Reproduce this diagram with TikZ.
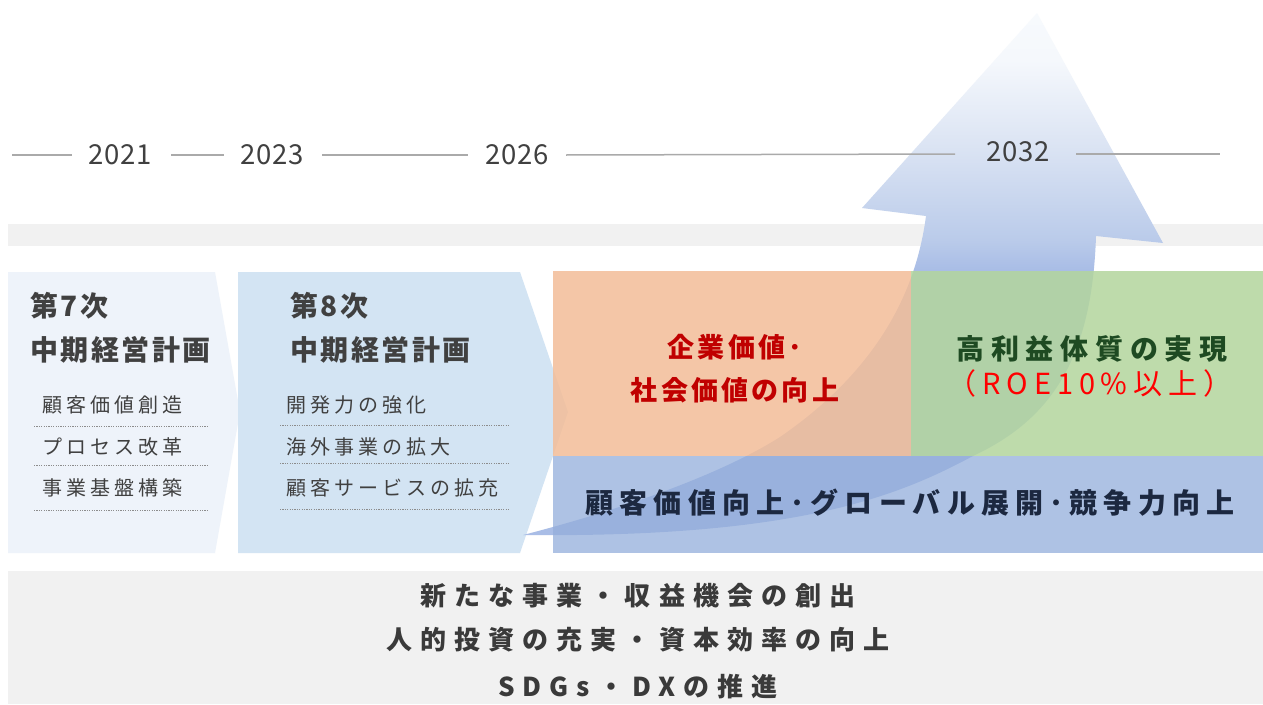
\documentclass[tikz,border=0pt]{standalone}
\usepackage{fontspec}
\newfontfamily\jp{Noto Sans CJK JP}
\newcommand{\jpfs}[2]{\fontsize{#1}{#1}\selectfont\addfontfeature{LetterSpace=#2}}
\definecolor{bandgrey}{HTML}{F1F1F1}
\definecolor{boxA}{HTML}{EEF3FA}
\definecolor{boxB}{HTML}{D3E4F3}
\definecolor{orangec}{HTML}{F3BD98}
\definecolor{greenc}{HTML}{B3D59D}
\definecolor{bluec}{HTML}{94AEDB}
\definecolor{arrB}{HTML}{A9BDE6}
\definecolor{arrC}{HTML}{BACBEA}
\definecolor{arrM}{HTML}{DAE3F3}
\definecolor{arrL}{HTML}{F5F8FC}
\definecolor{arrT}{HTML}{F7FAFD}
\definecolor{txtdark}{HTML}{404040}
\definecolor{tlgrey}{HTML}{AAAAAA}
\definecolor{dotgrey}{HTML}{8C8C8C}
\definecolor{redA}{HTML}{C00000}
\definecolor{redB}{HTML}{FF0000}
\definecolor{greenT}{HTML}{1E4A22}
\definecolor{navyT}{HTML}{1C2840}
\definecolor{botT}{HTML}{3A3A3A}
\pgfdeclareverticalshading{arrowshade}{100bp}{color(0bp)=(arrB); color(50.6bp)=(arrB); color(53.4bp)=(arrC); color(62bp)=(arrM); color(70.5bp)=(arrL); color(75bp)=(arrT); color(100bp)=(arrT)}
\begin{document}
\begin{tikzpicture}[x=1pt,y=-1pt,
  year/.style={inner sep=0pt, text=txtdark, font={\jp\jpfs{27.5}{3}}},
  tl/.style={draw=tlgrey, line width=1.5pt},
  head/.style={inner sep=0pt, anchor=west, text=txtdark, font={\jp\bfseries\jpfs{28}{9}}},
  item/.style={inner sep=0pt, anchor=west, text=txtdark, font={\jp\jpfs{20}{20}}},
  dotline/.style={draw=dotgrey, line width=0.7pt, dash pattern=on 1.2pt off 1.2pt},
  goalA/.style={inner sep=0pt, text=redA, font={\jp\bfseries\jpfs{27}{12}}},
  goalB/.style={inner sep=0pt, text=greenT, font={\jp\bfseries\jpfs{28}{24}}},
  goalC/.style={inner sep=0pt, text=redB, font={\jp\jpfs{29}{20}}},
  bandtxt/.style={inner sep=0pt, text=navyT, font={\jp\bfseries\jpfs{28}{22}}},
  bottxt/.style={inner sep=0pt, text=botT, font={\jp\bfseries\jpfs{26}{31}}}]
\useasboundingbox (0,0) rectangle (1263,704);
\fill[white] (0,0) rectangle (1263,704);
% grey bands
\fill[bandgrey] (8,224) rectangle (1263,246);
\fill[bandgrey] (8,571) rectangle (1263,704);
% chevrons
\fill[boxA] (8,272) -- (215,272) -- (240,412) -- (215,553) -- (8,553) -- cycle;
\fill[boxB] (238,272) -- (520,272) -- (568,412) -- (520,553) -- (238,553) -- cycle;
% arrow
\path[shading=arrowshade] (523,535) .. controls (620,510) and (720,475) .. (780,437)
  .. controls (870,375) and (915,300) .. (926,216) -- (862,208) -- (1037,13) -- (1163,243)
  -- (1096,236) .. controls (1092,360) and (1050,420) .. (973,456)
  .. controls (900,495) and (800,538) .. (523,535) -- cycle;
% timeline
\node[year] (y2021) at (120,155) {2021};
\node[year] (y2023) at (272,155) {2023};
\node[year] (y2026) at (517,155) {2026};
\node[year] (y2032) at (1018,152) {2032};
\coordinate (a1) at (12,155); \coordinate (a2) at (72,155);
\coordinate (b1) at (171,155); \coordinate (b2) at (224,155);
\coordinate (c1) at (322,155); \coordinate (c2) at (468,155);
\coordinate (d1) at (566,155); \coordinate (d2) at (955,154);
\coordinate (e1) at (1076,154); \coordinate (e2) at (1220,154);
\draw[tl] (a1) -- (a2);
\draw[tl] (b1) -- (b2);
\draw[tl] (c1) -- (c2);
\draw[tl] (d1) -- (d2);
\draw[tl] (e1) -- (e2);
% goal boxes
\fill[orangec, fill opacity=0.85] (553,271) rectangle (911,456);
\fill[greenc, fill opacity=0.85] (911,271) rectangle (1263,456);
\fill[bluec, fill opacity=0.75] (553,456) rectangle (1263,553);
% plan 7
\node[head] (p7a) at (30,306) {第7次};
\node[head] (p7b) at (30,350) {中期経営計画};
\node[item] (p7i1) at (42,405) {顧客価値創造};
\node[item] (p7i2) at (42,447) {プロセス改革};
\node[item] (p7i3) at (42,488) {事業基盤構築};
\draw[dotline] (34,426) -- (207,426);
\draw[dotline] (34,465) -- (207,465);
\draw[dotline] (34,510) -- (207,510);
% plan 8
\node[head] (p8a) at (290,306) {第8次};
\node[head] (p8b) at (290,350) {中期経営計画};
\node[item] (p8i1) at (286,405) {開発力の強化};
\node[item] (p8i2) at (286,447) {海外事業の拡大};
\node[item] (p8i3) at (286,488) {顧客サービスの拡充};
\draw[dotline] (280,425) -- (509,425);
\draw[dotline] (280,463) -- (509,463);
\draw[dotline] (280,509) -- (509,509);
% goals
\node[goalA] (g1) at (735,347) {企業価値･};
\node[goalA] (g2) at (735,390) {社会価値の向上};
\node[goalB] (g3) at (1092,349) {高利益体質の実現};
\node[goalC] (g4) at (1090,383) {（ROE10\%以上）};
\node[bandtxt] (g5) at (910,503) {顧客価値向上･グローバル展開･競争力向上};
% bottom
\node[bottxt] (b1t) at (638,596) {新たな事業・収益機会の創出};
\node[bottxt] (b2t) at (638,640) {人的投資の充実・資本効率の向上};
\node[bottxt] (b3t) at (638,687) {SDGs・DXの推進};
\end{tikzpicture}
\end{document}
